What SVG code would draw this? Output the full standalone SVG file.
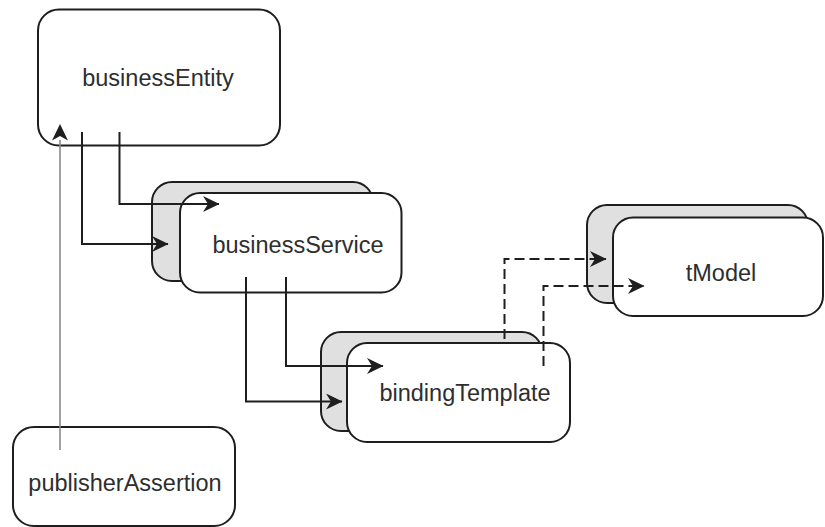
<svg xmlns="http://www.w3.org/2000/svg" width="825" height="527" viewBox="0 0 825 527">
<style>
.box{fill:#ffffff;stroke:#1e1e1e;stroke-width:2}
.back{fill:#e0e0e0;stroke:#1e1e1e;stroke-width:2}
.lbl{font-family:"Liberation Sans",Arial,sans-serif;font-size:23.5px;fill:#2e2e2e;text-anchor:middle}
.con{fill:none;stroke:#1e1e1e;stroke-width:2}
.dash{fill:none;stroke:#1e1e1e;stroke-width:2;stroke-dasharray:10 5}
.gray{fill:none;stroke:#8a8a8a;stroke-width:1.6}
</style>
<defs>
<marker id="arr" markerUnits="userSpaceOnUse" markerWidth="18" markerHeight="18" refX="16" refY="8" orient="auto">
<path d="M0,0 L16.5,8 L0,16 L5,8 z" fill="#1e1e1e"/>
</marker>
</defs>
<rect width="825" height="527" fill="#ffffff"/>
<g id="businessEntity">
<rect class="box" x="38" y="9.5" width="242" height="136" rx="21" ry="21"/>
<text class="lbl" x="158" y="86">businessEntity</text>
</g>
<g id="businessService">
<rect class="back" x="152" y="182" width="221" height="99" rx="20" ry="20"/>
<rect class="box" x="180" y="193" width="221.5" height="99.5" rx="20" ry="20"/>
<text class="lbl" x="298" y="253">businessService</text>
</g>
<g id="bindingTemplate">
<rect class="back" x="321" y="332" width="221" height="99" rx="20" ry="20"/>
<rect class="box" x="347" y="343" width="223" height="99" rx="20" ry="20"/>
<text class="lbl" x="465" y="400.5">bindingTemplate</text>
</g>
<g id="tModel">
<rect class="back" x="587" y="205" width="221" height="98" rx="20" ry="20"/>
<rect class="box" x="613" y="217.5" width="210" height="98.5" rx="20" ry="20"/>
<text class="lbl" x="721" y="280.5">tModel</text>
</g>
<g id="publisherAssertion">
<rect class="box" x="13" y="427" width="222" height="99" rx="21" ry="21"/>
<text class="lbl" x="125" y="490.5">publisherAssertion</text>
</g>
<g id="connectors">
<path class="con" d="M82,132 V244 H168" marker-end="url(#arr)"/>
<path class="con" d="M119.5,132 V204 H219" marker-end="url(#arr)"/>
<path class="con" d="M246,277 V401.5 H342" marker-end="url(#arr)"/>
<path class="con" d="M286,277 V366 H383" marker-end="url(#arr)"/>
<path class="dash" d="M504.5,339 V259 H606" marker-end="url(#arr)"/>
<path class="dash" d="M543.5,366 V286 H644" marker-end="url(#arr)"/>
<path class="gray" d="M60,450 V140"/>
<path d="M60,124 L68,140.5 L60,136 L52,140.5 z" fill="#1e1e1e"/>
</g>
</svg>
